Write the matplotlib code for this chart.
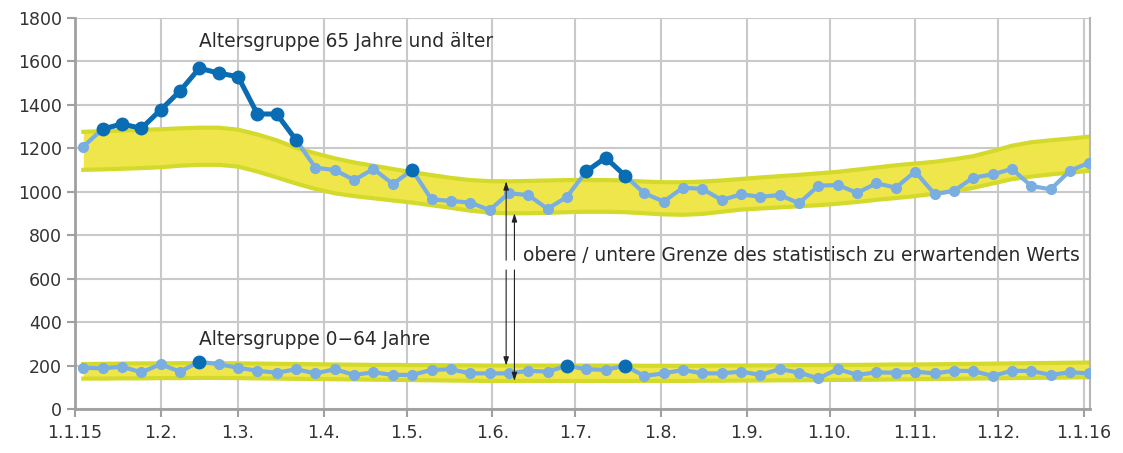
import numpy as np
import pandas as pd
import matplotlib
matplotlib.use("Agg")
import matplotlib.pyplot as plt

# weekly values (53 weeks)
wochen = pd.date_range("2015-01-04", periods=53, freq="7D")

alt_65 = [1208, 1289, 1312, 1292, 1377, 1464, 1569, 1546, 1530, 1358,
          1358, 1238, 1111, 1100, 1054, 1105, 1036, 1100, 965, 958,
          950, 916, 993, 985, 921, 977, 1094, 1157, 1074, 993,
          955, 1019, 1013, 962, 988, 977, 985, 947, 1028, 1031,
          995, 1039, 1019, 1093, 990, 1004, 1065, 1080, 1105, 1027,
          1011, 1097, 1134]
alt_65_oben = [1276, 1279, 1282, 1285, 1288, 1292, 1295, 1295, 1286, 1264,
               1237, 1202, 1177, 1154, 1135, 1120, 1105, 1090, 1077, 1064,
               1054, 1049, 1048, 1050, 1052, 1054, 1054, 1054, 1052, 1047,
               1044, 1044, 1047, 1052, 1059, 1066, 1072, 1078, 1085, 1092,
               1102, 1112, 1122, 1130, 1138, 1150, 1164, 1187, 1212, 1228,
               1237, 1245, 1254]
alt_65_unten = [1101, 1103, 1106, 1109, 1113, 1120, 1124, 1124, 1116, 1093,
                1066, 1038, 1013, 993, 980, 970, 960, 950, 938, 926,
                913, 904, 901, 901, 903, 906, 908, 908, 906, 901,
                896, 894, 898, 908, 918, 923, 928, 933, 938, 945,
                953, 963, 971, 980, 991, 1003, 1018, 1038, 1058, 1070,
                1080, 1088, 1096]
alt_65_hervor = [1, 2, 3, 4, 5, 6, 7, 8, 9, 10, 11, 17, 26, 27, 28]

alt_0_64 = [190, 187, 195, 169, 206, 172, 218, 206, 190, 176,
            167, 183, 164, 183, 157, 169, 157, 157, 180, 183,
            164, 164, 164, 176, 172, 199, 183, 180, 199, 152,
            164, 180, 164, 164, 172, 157, 184, 167, 141, 184,
            157, 169, 167, 172, 164, 176, 175, 152, 176, 175,
            157, 169, 164]
alt_0_64_oben = [207, 208, 209, 210, 210, 211, 211, 211, 210, 209,
                 208, 207, 206, 205, 204, 203, 203, 202, 202, 201,
                 201, 200, 200, 200, 200, 200, 200, 200, 200, 199,
                 199, 199, 199, 200, 200, 201, 201, 202, 202, 203,
                 203, 204, 205, 205, 206, 207, 208, 209, 210, 211,
                 212, 213, 214]
alt_0_64_unten = [140, 140, 141, 141, 142, 142, 143, 143, 142, 141,
                  140, 139, 138, 137, 136, 135, 134, 133, 132, 131,
                  130, 129, 129, 129, 129, 129, 129, 129, 129, 129,
                  129, 129, 130, 130, 131, 131, 132, 132, 133, 134,
                  134, 135, 136, 137, 138, 139, 140, 141, 142, 143,
                  144, 145, 146]
alt_0_64_hervor = [6, 25, 28]

monate = pd.to_datetime(["2015-01-01", "2015-02-01", "2015-03-01", "2015-04-01",
                         "2015-05-01", "2015-06-01", "2015-07-01", "2015-08-01",
                         "2015-09-01", "2015-10-01", "2015-11-01", "2015-12-01",
                         "2016-01-01"])
monat_labels = ["1.1.15", "1.2.", "1.3.", "1.4.", "1.5.", "1.6.", "1.7.", "1.8.",
                "1.9.", "1.10.", "1.11.", "1.12.", "1.1.16"]

hellblau = "#7aaee0"
dunkelblau = "#0a6db4"
gelb = "#efe64c"
gelb_rand = "#d3da2c"
grau = "#c9c9c9"

plt.rcParams["font.family"] = "DejaVu Sans"

fig = plt.figure(figsize=(11.23, 4.53), dpi=100)
ax = fig.add_axes([75 / 1123, 44 / 453, 1015 / 1123, 391 / 453])


def zeichne(werte, oben, unten, hervor):
    werte = np.array(werte, dtype=float)
    ax.fill_between(wochen, unten, oben, color=gelb, lw=0, zorder=2)
    ax.plot(wochen, oben, color=gelb_rand, lw=3, zorder=2)
    ax.plot(wochen, unten, color=gelb_rand, lw=3, zorder=2)
    ax.plot(wochen, werte, color=hellblau, lw=3, marker="o", ms=7,
            solid_capstyle="round", zorder=3)
    # hervorgehobene Wochen dunkel darueber
    dunkel = np.full(len(werte), np.nan)
    dunkel[hervor] = werte[hervor]
    ax.plot(wochen, dunkel, color=dunkelblau, lw=3.6, marker="o", ms=9,
            solid_capstyle="round", zorder=4)


zeichne(alt_65, alt_65_oben, alt_65_unten, alt_65_hervor)
zeichne(alt_0_64, alt_0_64_oben, alt_0_64_unten, alt_0_64_hervor)

ax.set_ylim(0, 1800)
ax.set_yticks(range(0, 1801, 200))
ax.set_xlim(pd.Timestamp("2015-01-01"), pd.Timestamp("2016-01-03 06:00"))
ax.set_xticks(monate)
ax.set_xticklabels(monat_labels)
ax.grid(True, color=grau, lw=1.5, zorder=0)
ax.set_axisbelow(True)

for s in ["left", "bottom"]:
    ax.spines[s].set_color("#a0a0a0")
    ax.spines[s].set_linewidth(2)
ax.spines["right"].set_color("#b5b5b5")
ax.spines["right"].set_linewidth(1.5)
ax.spines["top"].set_visible(False)
ax.tick_params(axis="both", colors="#a0a0a0", length=6, width=1.5,
               labelcolor="#333333", labelsize=12.5)
ax.tick_params(axis="x", pad=5)

# Beschriftungen
ax.text(pd.Timestamp("2015-02-15"), 1690, "Altersgruppe 65 Jahre und älter",
        fontsize=13.4, color="#2a2a2a", va="center", ha="left")
ax.text(pd.Timestamp("2015-02-15"), 318, "Altersgruppe 0\u221264 Jahre",
        fontsize=13.4, color="#2a2a2a", va="center", ha="left")
ax.text(pd.Timestamp("2015-06-12"), 708, "obere / untere Grenze des statistisch zu erwartenden Werts",
        fontsize=13.4, color="#2a2a2a", va="center", ha="left")

# Pfeile zu den Grenzen
pfeil = dict(arrowstyle="-|>,head_length=0.5,head_width=0.16", color="#222222", lw=0.8,
             shrinkA=0, shrinkB=0)
x1 = pd.Timestamp("2015-06-06")
x2 = pd.Timestamp("2015-06-09")
ax.annotate("", xy=(x1, alt_65_oben[22]), xytext=(x1, 685), arrowprops=pfeil, zorder=5)
ax.annotate("", xy=(x1, alt_0_64_oben[22]), xytext=(x1, 640), arrowprops=pfeil, zorder=5)
ax.annotate("", xy=(x2, alt_65_unten[22]), xytext=(x2, 685), arrowprops=pfeil, zorder=5)
ax.annotate("", xy=(x2, alt_0_64_unten[22]), xytext=(x2, 640), arrowprops=pfeil, zorder=5)

fig.savefig("out.png", dpi=100)
